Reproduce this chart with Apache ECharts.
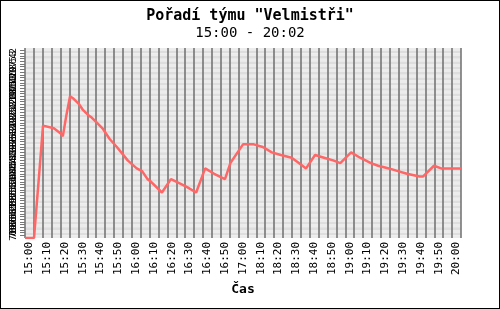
<!DOCTYPE html>
<html lang="cs">
<head>
<meta charset="UTF-8">
<title>Pořadí týmu</title>
<script src="https://cdn.jsdelivr.net/npm/echarts@6/dist/echarts.min.js"></script>
<style>
  html, body { margin: 0; padding: 0; background: #fff; }
  #main { width: 500px; height: 309px; border: 1px solid #000; box-sizing: border-box; }
</style>
</head>
<body>
<div id="main"></div>
<script>
// osa x: popisky po 5 minutach (mezi 17:00 a 18:10 je mezera)
var tickLabels = [
  '15:00','15:05','15:10','15:15','15:20','15:25','15:30','15:35','15:40','15:45',
  '15:50','15:55','16:00','16:05','16:10','16:15','16:20','16:25','16:30','16:35',
  '16:40','16:45','16:50','16:55','17:00','18:05','18:10','18:15','18:20','18:25',
  '18:30','18:35','18:40','18:45','18:50','18:55','19:00','19:05','19:10','19:15',
  '19:20','19:25','19:30','19:35','19:40','19:45','19:50','19:55','20:00'
];

// casy mereni a poradi tymu
var times = [
  '15:00','15:05','15:08','15:10','15:11','15:16','15:20','15:21','15:23','15:25',
  '15:27','15:30','15:32','15:35','15:37','15:40','15:43','15:47','15:51','15:57',
  '16:02','16:05','16:08','16:10','16:16','16:21','16:27','16:30','16:35','16:40',
  '16:45','16:51','16:54','16:58','18:01','18:07','18:12','18:17','18:22','18:28',
  '18:32','18:36','18:41','18:46','18:51','18:55','19:01','19:06','19:12','19:16',
  '19:22','19:27','19:32','19:39','19:41','19:47','19:51','19:55','20:02'
];
var ranks = [
  72, 72, 47, 30, 30, 31, 33, 34, 26, 19,
  20, 22, 24, 26, 27, 29, 31, 35, 38, 43,
  46, 47, 50, 51, 55, 50, 52, 53, 55, 46,
  48, 50, 44, 40, 37, 37, 38, 40, 41, 42,
  44, 46, 41, 42, 43, 44, 40, 42, 44, 45,
  46, 47, 48, 49, 49, 45, 46, 46, 46
];

var rankMin = 1, rankMax = 72;

// minuty od 15:00, hodina 17:00-18:00 vynechana
function toAxis(t) {
  var p = t.split(':');
  var m = (+p[0]) * 60 + (+p[1]) - 900;
  return m > 120 ? m - 60 : m;
}

var points = times.map(function (t, i) { return [toAxis(t), ranks[i]]; });

var mono = 'DejaVu Sans Mono';
var chart = echarts.init(document.getElementById('main'));

var option = {
  animation: false,
  title: {
    text: 'Pořadí týmu "Velmistři"',
    subtext: '15:00 - 20:02',
    left: 'center',
    top: 3,
    itemGap: 2,
    textStyle: { fontFamily: mono, fontSize: 15, fontWeight: 'bold', color: '#000' },
    subtextStyle: { fontFamily: mono, fontSize: 14, color: '#000' }
  },
  grid: { left: 24, right: 38, top: 47, bottom: 70 },
  xAxis: [
    {
      type: 'category',
      data: tickLabels,
      boundaryGap: true,
      name: 'Čas',
      nameLocation: 'middle',
      nameGap: 44,
      nameTextStyle: { fontFamily: mono, fontSize: 13, fontWeight: 'bold', color: '#000' },
      axisLine: { show: false },
      axisTick: { show: false },
      axisLabel: {
        interval: 1,
        rotate: 90,
        margin: 4,
        fontFamily: mono,
        fontSize: 11,
        color: '#000'
      },
      splitLine: { show: true, interval: 0, lineStyle: { color: '#6e6e6e', width: 1.5 } }
    },
    {
      type: 'value',
      min: 0,
      max: 242,
      show: false
    }
  ],
  yAxis: {
    type: 'value',
    inverse: true,
    min: rankMin,
    max: rankMax,
    interval: 1,
    axisLine: { show: false },
    axisTick: { show: true, length: 5, lineStyle: { color: '#777' } },
    axisLabel: {
      rotate: 90,
      margin: 7,
      fontFamily: mono,
      fontSize: 9,
      color: '#000'
    },
    splitLine: { show: false },
    splitArea: { show: true, areaStyle: { color: ['#ececec', '#dedede'] } }
  },
  series: [
    {
      type: 'line',
      xAxisIndex: 1,
      data: points,
      showSymbol: false,
      lineStyle: { color: '#ff6666', width: 2.5 }
    }
  ]
};

chart.setOption(option);
</script>
</body>
</html>
